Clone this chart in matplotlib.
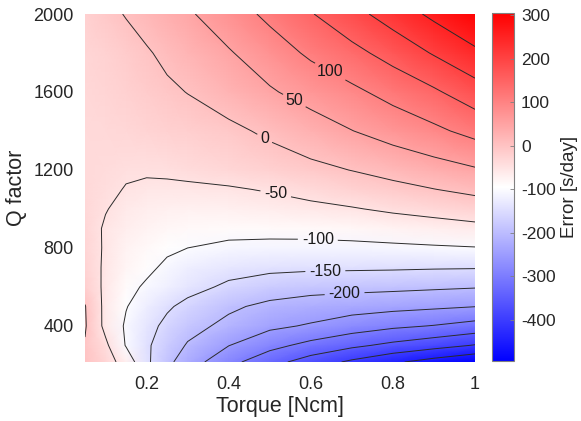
import numpy as np
import matplotlib
matplotlib.use("Agg")
import matplotlib.pyplot as plt
from matplotlib.colors import LinearSegmentedColormap

plt.rcParams['font.family'] = ['Liberation Sans', 'DejaVu Sans']
plt.rcParams['contour.negative_linestyle'] = 'solid'
plt.rcParams['axes.unicode_minus'] = False

# Torque [Ncm] grid (columns)
torque = [0.05, 0.1, 0.15, 0.2, 0.25, 0.3, 0.4, 0.5, 0.6, 0.7, 0.8, 0.9, 1.0]
# Q factor grid (rows)
qfactor = [215, 300, 400, 500, 600, 700, 800, 900, 1000, 1100, 1200, 1400, 1600, 1800, 2000]

# Error [s/day], one list per Q row
err_q215 = [0, -29, -70, -141, -188, -225, -285, -332, -373, -409, -442, -470, -495]
err_q300 = [-3, -41, -103, -143, -175, -204, -249, -285, -315, -340, -362, -382, -403]
err_q400 = [4, -62, -106, -135, -161, -184, -212, -240, -255, -275, -291, -302, -318]
err_q500 = [2, -62, -98, -122, -144, -162, -192, -211, -222, -230, -236, -242, -249]
err_q600 = [-18, -59, -88, -106, -120, -135, -158, -175, -183, -186, -189, -193, -197]
err_q700 = [-25, -57, -79, -91, -108, -121, -134, -139, -142, -143, -144, -146, -147]
err_q800 = [-28, -55, -76, -85, -93, -100, -108, -111, -112, -111, -108, -105, -102]
err_q900 = [-30, -55, -68, -75, -81, -85, -88, -87, -85, -81, -76, -70, -63]
err_q1000 = [-33, -48, -62, -68, -71, -72, -71, -66, -60, -53, -43, -34, -24]
err_q1100 = [-35, -42, -52, -56, -57, -57, -54, -47, -36, -24, -13, -1, 11]
err_q1200 = [-36, -40, -45, -46, -44, -40, -32, -22, -11, 1, 15, 30, 45]
err_q1400 = [-36, -35, -31, -27, -23, -19, -10, 8, 28, 49, 70, 90, 115]
err_q1600 = [-34, -29, -22, -14, -7, 1, 23, 45, 68, 90, 116, 143, 178]
err_q1800 = [-30, -24, -14, -4, 9, 21, 46, 76, 108, 136, 168, 204, 240]
err_q2000 = [-23, -10, 2, 16, 30, 44, 76, 111, 147, 184, 222, 261, 300]

plain_levels = [-450, -400, -350, -300, -250, 150, 200, 250]
label_levels = [-200, -150, -100, -50, 0, 50, 100]
label_pos = [(0.681, 615), (0.635, 738), (0.618, 892), (0.518, 1113), (0.498, 1400), (0.574, 1610), (0.659, 1749)]
cbar_ticks = [-400, -300, -200, -100, 0, 100, 200, 300]
x_ticks = [0.2, 0.4, 0.6, 0.8, 1.0]
x_ticklabels = ['0.2', '0.4', '0.6', '0.8', '1']
y_ticks = [400, 800, 1200, 1600, 2000]

Z = np.array([err_q215, err_q300, err_q400, err_q500, err_q600, err_q700, err_q800,
              err_q900, err_q1000, err_q1100, err_q1200, err_q1400, err_q1600,
              err_q1800, err_q2000], dtype=float)
T = np.array(torque)
Q = np.array(qfactor)

cmap = LinearSegmentedColormap.from_list('bwr_m', ['#0000ff', '#ffffff', '#ff0000'], N=512)
vmin, vmax = -495, 305

fig = plt.figure(figsize=(5.81, 4.21), dpi=100)
ax = fig.add_axes([85/581, 1-362/421, 390/581, 348/421])
mesh = ax.pcolormesh(T, Q, Z, cmap=cmap, vmin=vmin, vmax=vmax, shading='gouraud')
ax.contour(T, Q, Z, levels=plain_levels, colors='#2b2b2b', linewidths=0.7)
cs = ax.contour(T, Q, Z, levels=label_levels, colors='#2b2b2b', linewidths=0.7)
labels = ax.clabel(cs, manual=label_pos, inline=True, fontsize=11.5,
                   fmt='%d', colors='#1a1a1a', inline_spacing=4)
for t in labels:
    t.set_rotation(0)

ax.set_xlim(0.05, 1.0)
ax.set_ylim(215, 2000)
ax.set_xticks(x_ticks)
ax.set_xticklabels(x_ticklabels)
ax.set_yticks(y_ticks)
for s in ax.spines.values():
    s.set_visible(False)
ax.tick_params(length=0, labelsize=13, colors='#262626')
ax.tick_params(axis='x', pad=10)
ax.tick_params(axis='y', pad=8)
ax.set_xlabel('Torque [Ncm]', fontsize=15.5, color='#262626', labelpad=2)
ax.set_ylabel('Q factor', fontsize=15.5, color='#262626', labelpad=5)

cax = fig.add_axes([492/581, 1-361/421, 22/581, 348/421])
cb = fig.colorbar(mesh, cax=cax, ticks=cbar_ticks)
cb.outline.set_edgecolor('#808080')
cb.outline.set_linewidth(0.8)
cax.tick_params(direction='in', length=3, width=0.6, color='#808080', labelsize=12.5,
                labelcolor='#262626', pad=5)
cb.set_label('Error [s/day]', fontsize=13.5, color='#262626', labelpad=4)

fig.savefig('out.png', dpi=100)
